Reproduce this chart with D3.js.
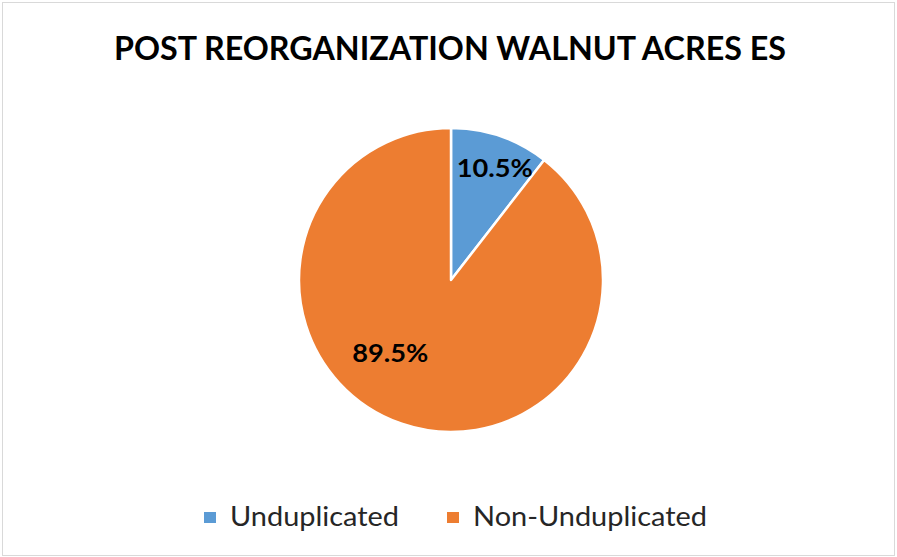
<!DOCTYPE html>
<html><head><meta charset="utf-8">
<script src="https://cdn.jsdelivr.net/npm/d3@7"></script>
<style>html,body{margin:0;padding:0;background:#fff;}</style>
</head><body>
<script>
const title = "POST REORGANIZATION WALNUT ACRES ES";
const categories = ["Unduplicated", "Non-Unduplicated"];
const values = [10.5, 89.5];
const colors = ["#5B9BD5", "#ED7D31"];
const labels = ["10.5%", "89.5%"];

const W = 897, H = 557;
const font = "Lato, 'Open Sans', sans-serif";
const svg = d3.select("body").append("svg").attr("width", W).attr("height", H);
svg.append("rect").attr("x", 2.5).attr("y", 2.5).attr("width", W - 5).attr("height", H - 4)
  .attr("fill", "#fff").attr("stroke", "#d9d9d9").attr("stroke-width", 1);

svg.append("text").attr("x", 450).attr("y", 60).attr("text-anchor", "middle")
  .attr("font-family", font).attr("font-weight", "bold")
  .attr("font-size", 32).attr("fill", "#000")
  .attr("textLength", 672).attr("lengthAdjust", "spacingAndGlyphs").text(title);

const cx = 451, cy = 280, r = 152;
const pie = d3.pie().sort(null).value(d => d)(values);
const arc = d3.arc().innerRadius(0).outerRadius(r);
const g = svg.append("g").attr("transform", `translate(${cx},${cy})`);
g.selectAll("path").data(pie).join("path")
  .attr("d", arc).attr("fill", (d, i) => colors[i])
  .attr("stroke", "#fff").attr("stroke-width", 2.5).attr("stroke-linejoin", "round");

// label placement: radius fraction and angular shift (layout)
const labelPos = [{rf: 0.80, da: 0.038}, {rf: 0.62, da: 0.37}];
g.selectAll("text.lbl").data(pie).join("text").attr("class", "lbl")
  .each(function (d, i) {
    const a = (d.startAngle + d.endAngle) / 2 + labelPos[i].da;
    const rr = r * labelPos[i].rf;
    d3.select(this).attr("x", rr * Math.sin(a)).attr("y", -rr * Math.cos(a));
  })
  .attr("text-anchor", "middle").attr("dominant-baseline", "central")
  .attr("font-family", font).attr("font-weight", "bold")
  .attr("font-size", 25).attr("fill", "#000")
  .attr("textLength", 76).attr("lengthAdjust", "spacingAndGlyphs")
  .text((d, i) => labels[i]);

// legend
const legX = [204, 447];
const legLen = [169, 234];
const lg = svg.selectAll("g.leg").data(categories).join("g").attr("class", "leg")
  .attr("transform", (d, i) => `translate(${legX[i]},512)`);
lg.append("rect").attr("width", 12).attr("height", 11).attr("fill", (d, i) => colors[i]);
lg.append("text").attr("x", 26).attr("y", 14).attr("font-family", font)
  .attr("font-size", 26).attr("fill", "#262626")
  .attr("textLength", (d, i) => legLen[i]).attr("lengthAdjust", "spacingAndGlyphs")
  .text(d => d);
</script>
</body></html>
